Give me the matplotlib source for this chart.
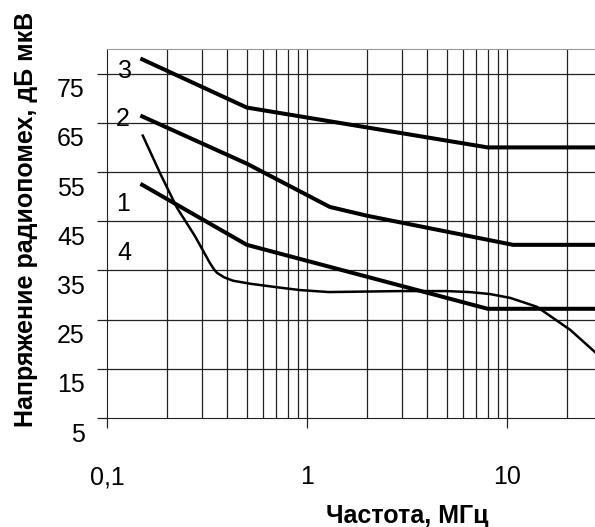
import numpy as np
import matplotlib.pyplot as plt
from matplotlib.transforms import ScaledTranslation

plt.rcParams['font.family'] = ['Liberation Sans', 'DejaVu Sans']

# Curve data (frequency MHz, level dB uV)
f3 = [0.15, 0.5, 8.0, 27.5]
u3 = [77.9, 68.1, 60.0, 60.0]

f2 = [0.15, 0.5, 1.3, 2.0, 10.7, 27.5]
u2 = [66.3, 56.7, 47.9, 46.1, 40.2, 40.2]

f1 = [0.15, 0.5, 8.0, 27.5]
u1 = [52.4, 40.2, 27.2, 27.2]

f4 = [0.151, 0.185, 0.224, 0.275, 0.327, 0.343, 0.355, 0.385, 0.427, 0.519, 0.7,
      0.923, 1.29, 2.92, 5.0, 6.5, 8.2, 10.4, 14.1, 20.7, 27.5]
u4 = [62.4, 54.6, 47.7, 42.0, 36.5, 35.2, 34.5, 33.6, 32.9, 32.3, 31.6,
      31.0, 30.6, 30.8, 30.8, 30.6, 30.2, 29.4, 27.6, 22.9, 18.4]

y_ticks = [5, 15, 25, 35, 45, 55, 65, 75]
x_ticks = [0.1, 1, 10]
x_ticklabels = ['0,1', '1', '10']
curve_labels = [('3', 0.123, 75.5), ('2', 0.12, 65.8), ('1', 0.12, 48.5), ('4', 0.122, 38.6)]

fig = plt.figure(figsize=(5.95, 5.27), dpi=100)
ax = fig.add_axes([0.1798, 0.2068, 1.0 - 0.1798, 0.907 - 0.2068])
ax.set_xscale('log')
ax.set_xlim(0.1, 27.5)
ax.set_ylim(5, 80)

# grid
for v in [0.1 * k for k in range(2, 10)] + list(range(1, 10)) + [10, 20]:
    ax.axvline(v, color='#222222', lw=0.9, zorder=1)
for v in y_ticks[1:]:
    ax.axhline(v, color='#222222', lw=0.9, zorder=1)

ax.plot(f3, u3, color='black', lw=2.9, zorder=3)
ax.plot(f2, u2, color='black', lw=2.9, zorder=3)
ax.plot(f1, u1, color='black', lw=2.9, zorder=3)
ax.plot(f4, u4, color='black', lw=1.8, zorder=3)

for txt, x, y in curve_labels:
    ax.text(x, y, txt, fontsize=18, ha='center', va='center', zorder=4)

ax.set_yticks(y_ticks)
ax.set_yticklabels([str(v) for v in y_ticks], fontsize=18)
ax.set_xticks(x_ticks)
ax.set_xticklabels(x_ticklabels, fontsize=18)
ax.xaxis.set_minor_locator(plt.NullLocator())
ax.tick_params(axis='y', length=7, width=0.9, pad=9, color='#222222')
ax.tick_params(axis='x', length=7, width=0.9, pad=27, color='#222222')
offset = ScaledTranslation(0, -14 / 100, fig.dpi_scale_trans)
for lab in ax.get_yticklabels():
    lab.set_transform(lab.get_transform() + offset)

ax.spines['right'].set_visible(False)
ax.spines['top'].set_color('#999999')
ax.spines['left'].set_color('#222222')
ax.spines['bottom'].set_color('#222222')

fig.text(407 / 595, 1 - 516 / 527, 'Частота, МГц', fontsize=18, fontweight='bold',
         ha='center', va='center')
fig.text(26 / 595, 1 - 219 / 527, 'Напряжение радиопомех, дБ мкВ', fontsize=18,
         fontweight='bold', rotation=90, ha='center', va='center')

fig.savefig('out.png', dpi=100)
